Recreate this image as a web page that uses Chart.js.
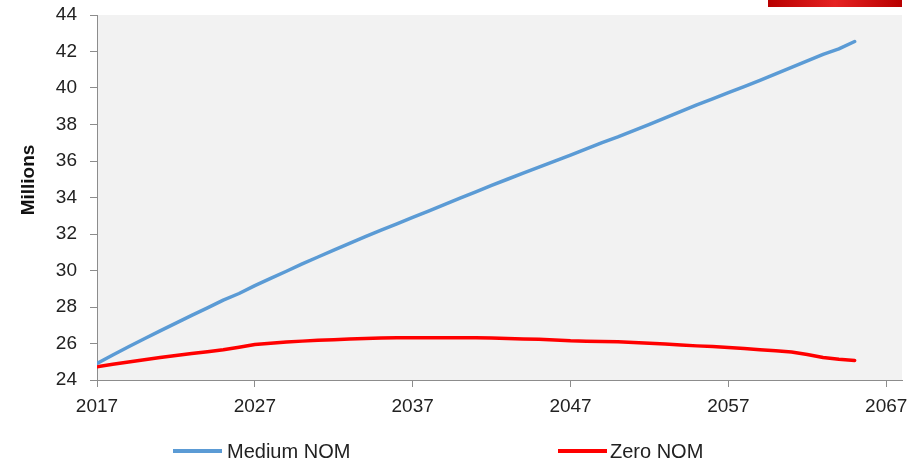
<!DOCTYPE html>
<html>
<head>
<meta charset="utf-8">
<script src="https://cdn.jsdelivr.net/npm/chart.js@4/dist/chart.umd.min.js"></script>
<style>
  html, body { margin: 0; padding: 0; background: #fff; }
  #wrap { position: relative; width: 917px; height: 461px; }
</style>
</head>
<body>
<div id="wrap"><canvas id="chart"></canvas></div>
<script>
// data (millions)
var years = [];
for (var y = 2017; y <= 2065; y++) years.push(y);

var mediumNom = [
  24.91, 25.37, 25.82, 26.26, 26.69, 27.12, 27.54, 27.95, 28.38, 28.74,
  29.17, 29.57, 29.96, 30.36, 30.74, 31.12, 31.49, 31.86, 32.21, 32.56,
  32.91, 33.26, 33.61, 33.96, 34.31, 34.66, 35.00, 35.33, 35.66, 35.99,
  36.32, 36.67, 37.01, 37.32, 37.66, 38.01, 38.36, 38.72, 39.08, 39.40,
  39.74, 40.08, 40.42, 40.78, 41.13, 41.48, 41.84, 42.14, 42.55
];
var zeroNom = [
  24.73, 24.86, 24.99, 25.11, 25.23, 25.34, 25.45, 25.55, 25.66, 25.80,
  25.95, 26.02, 26.08, 26.13, 26.18, 26.21, 26.25, 26.28, 26.30, 26.31,
  26.31, 26.32, 26.32, 26.32, 26.32, 26.30, 26.27, 26.25, 26.23, 26.19,
  26.15, 26.13, 26.11, 26.09, 26.06, 26.02, 25.97, 25.92, 25.87, 25.83,
  25.78, 25.72, 25.66, 25.60, 25.53, 25.40, 25.23, 25.14, 25.07
];
var xTickYears = [2017, 2027, 2037, 2047, 2057, 2067];
var seriesNames = ['Medium NOM', 'Zero NOM'];
var seriesColors = ['#5b9bd5', '#ff0000'];
var yTitle = 'Millions';

function toPoints(vals) {
  return years.map(function (yr, i) { return { x: yr, y: vals[i] }; });
}

var FONT = '"Liberation Sans", Arial, sans-serif';
var AXIS_GREY = '#8c8c8c';

// grey plot background, red banner top right, axis title
var backdrop = {
  id: 'backdrop',
  beforeDraw: function (chart) {
    var a = chart.chartArea, ctx = chart.ctx;
    ctx.save();
    ctx.fillStyle = '#f2f2f2';
    ctx.fillRect(a.left, a.top, a.right - a.left, a.bottom - a.top);
    var g = ctx.createLinearGradient(768, 0, 902, 0);
    g.addColorStop(0, '#b80000');
    g.addColorStop(0.5, '#e52222');
    g.addColorStop(1, '#b80000');
    ctx.fillStyle = g;
    ctx.fillRect(768, 0, 134, 7);

    // y title sits a bit above the middle in the original
    ctx.translate(29, 180);
    ctx.rotate(-Math.PI / 2);
    ctx.font = 'bold 19px ' + FONT;
    ctx.fillStyle = '#111';
    ctx.textAlign = 'center';
    ctx.textBaseline = 'middle';
    ctx.fillText(yTitle, 0, 0);
    ctx.restore();
  }
};

// legend under the axis, placed like the original
var bottomLegend = {
  id: 'bottomLegend',
  afterDraw: function (chart) {
    var ctx = chart.ctx;
    var spots = [{ x0: 173, x1: 222, tx: 227 }, { x0: 558, x1: 607, tx: 610 }];
    ctx.save();
    ctx.font = '20px ' + FONT;
    ctx.textBaseline = 'middle';
    chart.data.datasets.forEach(function (ds, i) {
      var s = spots[i];
      ctx.strokeStyle = ds.borderColor;
      ctx.lineWidth = 4;
      ctx.beginPath();
      ctx.moveTo(s.x0, 451);
      ctx.lineTo(s.x1, 451);
      ctx.stroke();
      ctx.fillStyle = '#222';
      ctx.fillText(ds.label, s.tx, 452);
    });
    ctx.restore();
  }
};

new Chart(document.getElementById('chart'), {
  type: 'line',
  data: {
    datasets: [
      { label: seriesNames[0], data: toPoints(mediumNom), borderColor: seriesColors[0], borderWidth: 3.5 },
      { label: seriesNames[1], data: toPoints(zeroNom), borderColor: seriesColors[1], borderWidth: 3.5 }
    ]
  },
  options: {
    responsive: true,
    maintainAspectRatio: false,
    animation: false,
    layout: { padding: { top: 15, right: 15, bottom: 41, left: 0 } },
    elements: {
      point: { radius: 0 },
      line: { tension: 0, borderCapStyle: 'round', borderJoinStyle: 'round' }
    },
    plugins: {
      legend: { display: false },
      tooltip: { enabled: false }
    },
    scales: {
      x: {
        type: 'linear',
        min: 2017,
        max: 2068,
        afterBuildTicks: function (scale) {
          scale.ticks = xTickYears.map(function (v) { return { value: v }; });
        },
        afterFit: function (scale) {
          scale.height = 40;
          scale.paddingLeft = 0;
          scale.paddingRight = 0;
        },
        grid: { drawOnChartArea: false, color: AXIS_GREY, tickLength: 7 },
        border: { color: AXIS_GREY, width: 1 },
        ticks: {
          color: '#222',
          font: { family: FONT, size: 19 },
          padding: 8,
          maxRotation: 0,
          callback: function (v) { return String(v); }
        }
      },
      y: {
        min: 24,
        max: 44,
        afterFit: function (scale) {
          scale.width = 97;
          scale.paddingTop = 0;
          scale.paddingBottom = 0;
        },
        grid: { drawOnChartArea: false, color: AXIS_GREY, tickLength: 7 },
        border: { color: AXIS_GREY, width: 1 },
        ticks: {
          stepSize: 2,
          color: '#222',
          font: { family: FONT, size: 19 },
          padding: 13
        }
      }
    }
  },
  plugins: [backdrop, bottomLegend]
});
</script>
</body>
</html>
